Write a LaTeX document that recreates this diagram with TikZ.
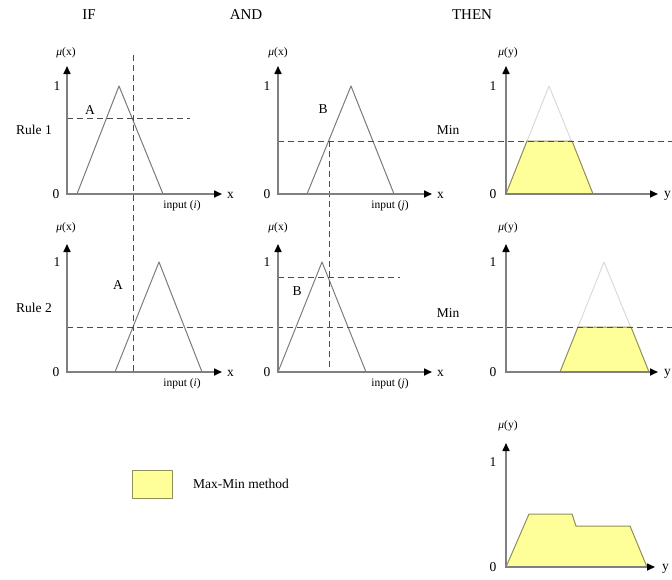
\documentclass[tikz,border=0pt]{standalone}
\usepackage{fontspec}
\setmainfont{Liberation Serif}
\usetikzlibrary{arrows.meta}
\definecolor{axisgray}{HTML}{808080}
\definecolor{membgray}{HTML}{7A7A7A}
\definecolor{areayellow}{HTML}{FFFF99}
\definecolor{areaedge}{HTML}{8F8F5A}
\tikzset{
    axis/.style={draw=axisgray, line width=1.6pt, {Triangle[length=8pt, width=7pt, color=black]}-{Triangle[length=8pt, width=7pt, color=black]}},
    memb/.style={draw=membgray, line width=1pt, line join=round},
    faint/.style={draw=black!14, line width=1pt, line join=round},
    cut/.style={draw=black!70, line width=1pt, dash pattern=on 6pt off 4pt},
    area/.style={fill=areayellow, draw=areaedge, line width=1pt, line join=round},
    head/.style={font=\fontsize{15}{17}\selectfont, inner sep=0pt},
    lbl/.style={font=\fontsize{13.5}{16}\selectfont, inner sep=0pt},
    small/.style={font=\fontsize{11.5}{13}\selectfont, inner sep=0pt},
}

\begin{document}
\begin{tikzpicture}[x=1pt, y=-1pt]
    \useasboundingbox[fill=white] (0,0) rectangle (672,579);

    % clipped output areas (THEN column)
    \draw[faint] (506,194) -- (549,86) -- (593,194);
    \draw[area] (506,194) -- (527,141) -- (572,141) -- (593,194) -- cycle;
    \draw[faint] (560,372) -- (604,262) -- (649,372);
    \draw[area] (560,372) -- (578,327) -- (631,327) -- (649,372) -- cycle;
    \draw[area] (506,567) -- (529,514) -- (572,514) -- (576,526) -- (630,526) -- (647,567) -- cycle;

    % membership functions
    \draw[memb] (77,194) -- (119,86) -- (163,194);
    \draw[memb] (307,194) -- (351,86) -- (394,194);
    \draw[memb] (115,372) -- (159,262) -- (202,372);
    \draw[memb] (278,372) -- (322,262) -- (366,372);

    % inputs and cut levels
    \draw[cut] (133,55) -- (133,372);
    \draw[cut] (329,141) -- (329,372);
    \draw[cut] (67,118) -- (190,118);
    \draw[cut] (278,141) -- (672,141);
    \draw[cut] (278,277) -- (400,277);
    \draw[cut] (67,327) -- (672,327);

    % axes
    \draw[axis] (67,66) -- (67,194) -- (222,194);
    \draw[axis] (278,66) -- (278,194) -- (432,194);
    \draw[axis] (506,66) -- (506,194) -- (658,194);
    \draw[axis] (67,244) -- (67,372) -- (222,372);
    \draw[axis] (278,244) -- (278,372) -- (432,372);
    \draw[axis] (506,244) -- (506,372) -- (658,372);
    \draw[axis] (506,443) -- (506,567) -- (655,567);

    % column and row headings
    \node[head] (if) at (89,15) {IF};
    \node[head] (and) at (246,15) {AND};
    \node[head] (then) at (472,15) {THEN};
    \node[lbl] (rule1) at (34,130) {Rule 1};
    \node[lbl] (rule2) at (34,308) {Rule 2};

    % axis labels, rule 1
    \node[small] (mu1) at (66,53) {{\itshape μ}(x)};
    \node[lbl] (one1) at (57,86) {1};
    \node[lbl] (zero1) at (56,194) {0};
    \node[lbl, anchor=west] (x1) at (227,195) {x};
    \node[small] (in1) at (182,206) {input (\textit{i})};
    \node[lbl] (a1) at (90,110) {A};
    \node[small] (mu2) at (278,53) {{\itshape μ}(x)};
    \node[lbl] (one2) at (267,86) {1};
    \node[lbl] (zero2) at (267,194) {0};
    \node[lbl, anchor=west] (x2) at (437,195) {x};
    \node[small] (in2) at (390,206) {input (\textit{j})};
    \node[lbl] (b1) at (323,109) {B};
    \node[lbl] (min1) at (448,130) {Min};
    \node[small] (mu3) at (508,53) {{\itshape μ}(y)};
    \node[lbl] (one3) at (493,86) {1};
    \node[lbl] (zero3) at (493,194) {0};
    \node[lbl, anchor=west] (y3) at (664,196) {y};

    % axis labels, rule 2
    \node[small] (mu4) at (66,228) {{\itshape μ}(x)};
    \node[lbl] (one4) at (57,262) {1};
    \node[lbl] (zero4) at (56,372) {0};
    \node[lbl, anchor=west] (x4) at (227,373) {x};
    \node[small] (in4) at (182,384) {input (\textit{i})};
    \node[lbl] (a2) at (118,285) {A};
    \node[small] (mu5) at (278,228) {{\itshape μ}(x)};
    \node[lbl] (one5) at (267,262) {1};
    \node[lbl] (zero5) at (267,372) {0};
    \node[lbl, anchor=west] (x5) at (437,373) {x};
    \node[small] (in5) at (390,384) {input (\textit{j})};
    \node[lbl] (b2) at (297,291) {B};
    \node[lbl] (min2) at (448,313) {Min};
    \node[small] (mu6) at (508,228) {{\itshape μ}(y)};
    \node[lbl] (one6) at (493,262) {1};
    \node[lbl] (zero6) at (493,372) {0};
    \node[lbl, anchor=west] (y6) at (664,374) {y};

    % aggregated output
    \node[small] (mu7) at (508,426) {{\itshape μ}(y)};
    \node[lbl] (one7) at (493,462) {1};
    \node[lbl] (zero7) at (493,567) {0};
    \node[lbl, anchor=west] (y7) at (662,569) {y};

    % legend
    \node[area, minimum width=40pt, minimum height=28pt, inner sep=0pt] (key) at (152,484) {};
    \node[lbl, anchor=west] (keytext) at (193,484) {Max-Min method};
\end{tikzpicture}
\end{document}
